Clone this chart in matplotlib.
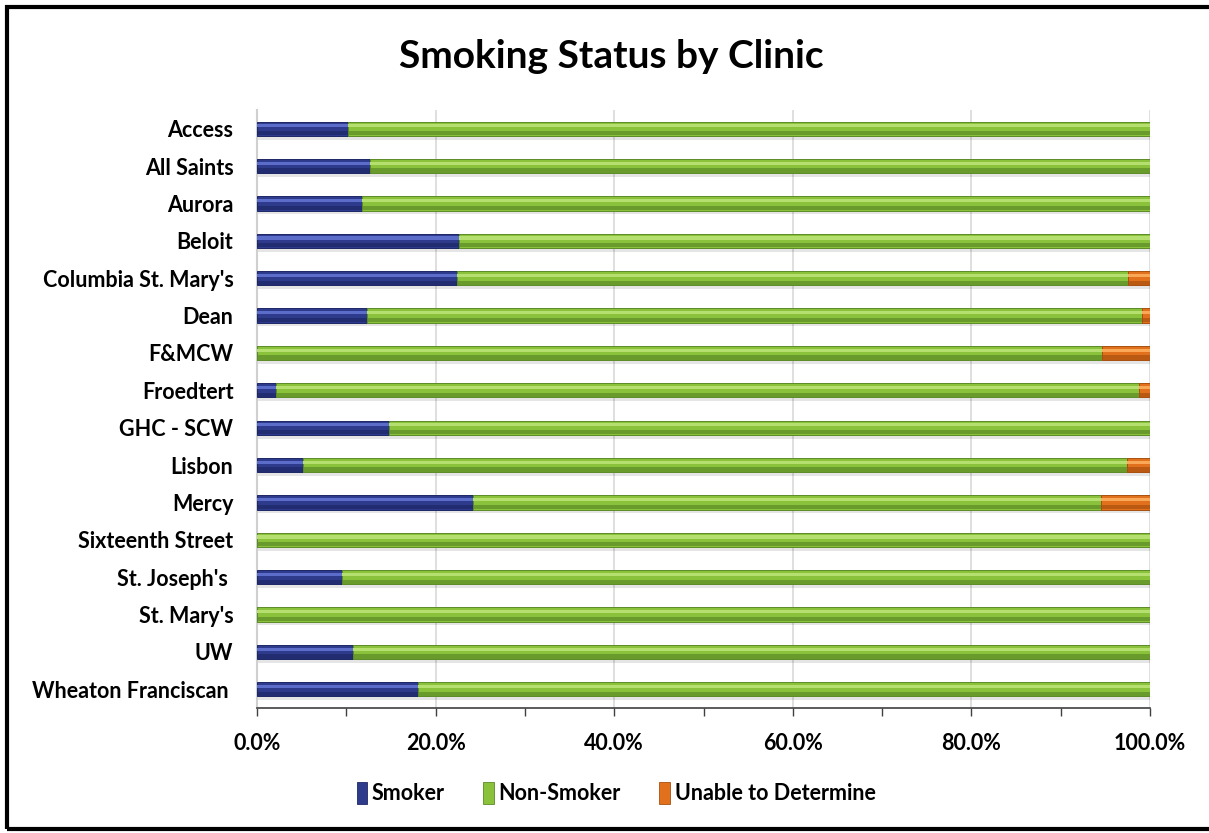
import matplotlib
matplotlib.use("Agg")
import matplotlib.pyplot as plt
from matplotlib.patches import Rectangle
from matplotlib.ticker import MultipleLocator, FuncFormatter

clinics = ["Access", "All Saints", "Aurora", "Beloit", "Columbia St. Mary's", "Dean",
           "F&MCW", "Froedtert", "GHC - SCW", "Lisbon", "Mercy", "Sixteenth Street",
           "St. Joseph's ", "St. Mary's", "UW", "Wheaton Franciscan "]
smoker = [10.2, 12.7, 11.8, 22.6, 22.4, 12.3, 0.0, 2.1, 14.8, 5.1, 24.2, 0.0, 9.5, 0.0, 10.7, 18.0]
non_smoker = [89.8, 87.3, 88.2, 77.4, 75.1, 86.8, 94.6, 96.7, 85.2, 92.3, 70.3, 100.0, 90.5, 100.0, 89.3, 82.0]
unable = [0.0, 0.0, 0.0, 0.0, 2.5, 0.9, 5.4, 1.2, 0.0, 2.6, 5.5, 0.0, 0.0, 0.0, 0.0, 0.0]
series_names = ["Smoker", "Non-Smoker", "Unable to Determine"]
x_ticks = [0, 20, 40, 60, 80, 100]

plt.rcParams['font.family'] = ['Lato', 'DejaVu Sans']
plt.rcParams['font.weight'] = 'bold'

FS = 15.5
W, H = 1209, 833
fig = plt.figure(figsize=(W / 100, H / 100), dpi=100)
ax = fig.add_axes([257 / W, 1 - 708 / H, (1150 - 257) / W, (708 - 110) / H])

# colour styles: (base, highlight, dark)
styles = [("#2E3A8C", "#5B6CC9", "#1E2766"),
          ("#8AC23C", "#B5E070", "#5C8B26"),
          ("#E2711D", "#F9A857", "#A9500E")]

ypos = list(range(len(clinics)))
bh = 0.38

# shadows
totals = [s + n + u for s, n, u in zip(smoker, non_smoker, unable)]
ax.barh([y + 0.07 for y in ypos], totals, height=bh + 0.06, left=0,
        color="#000000", alpha=0.10, zorder=1, linewidth=0)

lefts = [0.0] * len(clinics)
for vals, (base, hi, dark) in zip([smoker, non_smoker, unable], styles):
    ax.barh(ypos, vals, height=bh, left=lefts, color=base, edgecolor=dark,
            linewidth=0.7, zorder=3)
    ax.barh([y - bh * 0.20 for y in ypos], vals, height=bh * 0.22, left=lefts,
            color=hi, linewidth=0, zorder=4)
    ax.barh([y + bh * 0.32 for y in ypos], vals, height=bh * 0.30, left=lefts,
            color=dark, linewidth=0, zorder=4, alpha=0.7)
    lefts = [l + v for l, v in zip(lefts, vals)]

ax.set_xlim(0, 100)
ax.set_ylim(len(clinics) - 0.5, -0.5)
ax.set_yticks(ypos)
ax.set_yticklabels(clinics, fontsize=FS, fontweight='bold')
ax.set_xticks(x_ticks)
ax.xaxis.set_minor_locator(MultipleLocator(10))
ax.xaxis.set_major_formatter(FuncFormatter(lambda v, p: f"{v:.1f}%"))
ax.tick_params(axis='y', length=0, pad=17)
ax.tick_params(axis='x', which='both', length=6, width=1, color='#404040', pad=12, direction='out')
ax.tick_params(axis='x', which='major', labelsize=FS)
for lab in ax.get_xticklabels():
    lab.set_fontweight('bold')

ax.grid(axis='x', color='#D9D9D9', linewidth=1.2, zorder=0)
ax.set_axisbelow(True)
for sp in ['top', 'right']:
    ax.spines[sp].set_visible(False)
ax.spines['left'].set_color('#D0D0D0')
ax.spines['left'].set_linewidth(1.5)
ax.spines['bottom'].set_color('#404040')
ax.spines['bottom'].set_linewidth(1.2)

fig.text(611 / W, 1 - 56 / H, "Smoking Status by Clinic", ha='center', va='center',
         fontsize=28, fontweight='bold')

handles = [Rectangle((0, 0), 1, 1, facecolor=b, edgecolor=d, linewidth=0.6) for b, h, d in styles]
fig.legend(handles, series_names, loc='center', bbox_to_anchor=(616 / W, 1 - 793 / H),
           ncol=3, frameon=False, handlelength=0.5, handleheight=1.2,
           handletextpad=0.2, columnspacing=1.8, prop={'weight': 'bold', 'size': FS})

# outer frame
fig.patches.append(Rectangle((7 / W, 1 - 829 / H), (W + 20) / W, (829 - 6.5) / H,
                             transform=fig.transFigure, fill=False, edgecolor='black',
                             linewidth=3, zorder=10))

fig.savefig("out.png", dpi=100)
